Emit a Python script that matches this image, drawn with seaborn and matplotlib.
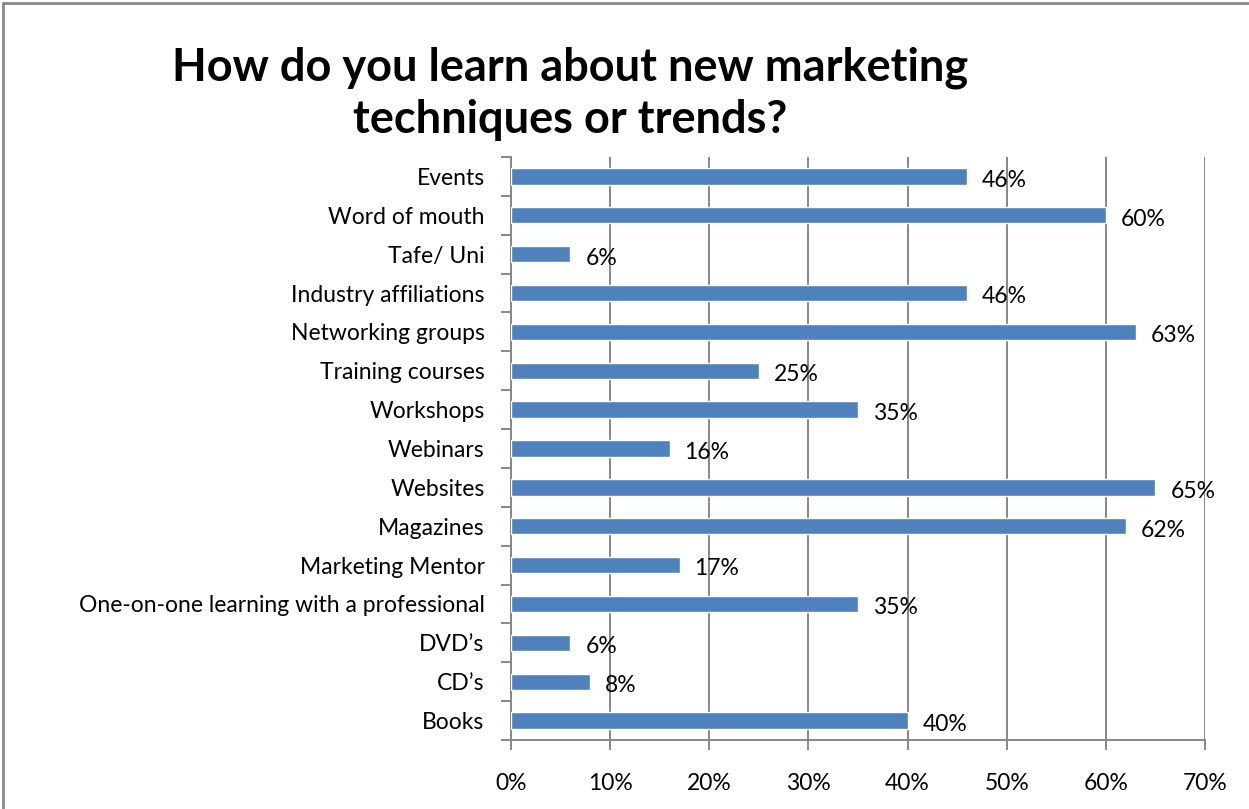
import matplotlib
matplotlib.use("Agg")
import matplotlib.pyplot as plt
import seaborn as sns
import pandas as pd
from matplotlib.lines import Line2D

categories = [
    "Events", "Word of mouth", "Tafe/ Uni", "Industry affiliations",
    "Networking groups", "Training courses", "Workshops", "Webinars",
    "Websites", "Magazines", "Marketing Mentor",
    "One-on-one learning with a professional", "DVD\u2019s", "CD\u2019s", "Books",
]
values = [46, 60, 6, 46, 63, 25, 35, 16, 65, 62, 17, 35, 6, 8, 40]
x_ticks = [0, 10, 20, 30, 40, 50, 60, 70]
title = "How do you learn about new marketing\ntechniques or trends?"

df = pd.DataFrame({"source": categories, "pct": values})

sns.set_theme(style="white")
plt.rcParams["font.family"] = ["Lato", "DejaVu Sans"]

fig = plt.figure(figsize=(12.49, 8.09), dpi=100)
ax = fig.add_axes([511 / 1249, 1 - 740 / 809, (1205 - 511) / 1249, (740 - 157) / 809])

sns.barplot(data=df, x="pct", y="source", orient="h", color="#4F81BD",
            saturation=1, width=0.42, ax=ax, zorder=3)

ax.set_xlim(0, 70)
ax.set_ylim(len(categories) - 0.5, -0.5)
ax.set_xticks(x_ticks)
ax.set_xticklabels([f"{t}%" for t in x_ticks])
ax.set_xlabel("")
ax.set_ylabel("")

grid_c = "#878787"
ax.xaxis.grid(True, color=grid_c, linewidth=1.4, zorder=0)
ax.yaxis.grid(False)
for s in ["top", "right"]:
    ax.spines[s].set_visible(False)
for s in ["left", "bottom"]:
    ax.spines[s].set_color(grid_c)
    ax.spines[s].set_linewidth(1.4)

lab_fs = 16.5
ax.set_yticks([i - 0.5 for i in range(len(categories) + 1)], minor=True)
ax.tick_params(axis="y", which="major", length=0, pad=19, labelsize=lab_fs, labelcolor="black")
ax.tick_params(axis="y", which="minor", length=7, width=1.4, color=grid_c, left=True)
ax.tick_params(axis="x", which="major", length=7, width=1.4, color=grid_c, bottom=True,
               pad=17, labelsize=lab_fs, labelcolor="black")

for i, v in enumerate(values):
    ax.text(v + 1.5, i + 0.1, f"{v}%", va="center", ha="left", fontsize=lab_fs,
            color="black", zorder=4)

fig.text(570 / 1249, 1 - 94 / 809, title, ha="center", va="center",
         fontsize=32.5, fontweight="bold", linespacing=1.3, color="black")

# outer chart frame (left and top edges)
fig.add_artist(Line2D([3 / 1249, 3 / 1249], [0, 1 - 3 / 809], transform=fig.transFigure,
                      color="#888888", linewidth=2))
fig.add_artist(Line2D([3 / 1249, 1], [1 - 3 / 809, 1 - 3 / 809], transform=fig.transFigure,
                      color="#888888", linewidth=2))

fig.savefig("out.png", dpi=100)
